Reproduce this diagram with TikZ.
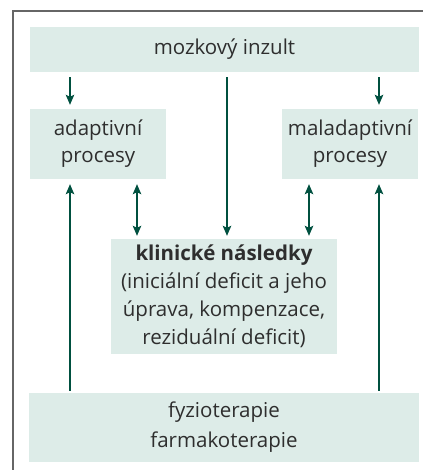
\documentclass[tikz,border=0pt]{standalone}
\usepackage{fontspec}
\setmainfont{Open Sans}
\usetikzlibrary{arrows.meta}
\definecolor{boxfill}{HTML}{DDECE8}
\definecolor{arrowcol}{HTML}{00503F}
\definecolor{txt}{HTML}{2E2E2E}
\definecolor{framecol}{HTML}{666666}
\begin{document}
\begin{tikzpicture}[x=1pt,y=-1pt,
  boxstyle/.style={fill=boxfill,draw=none,inner sep=0pt,align=center,text=txt,font=\fontsize{20.5}{27}\selectfont},
  arr/.style={draw=arrowcol,line width=1.2pt,-{Stealth[length=10pt,width=8.5pt,inset=2pt]}},
  darr/.style={draw=arrowcol,line width=1.2pt,{Stealth[length=10pt,width=8.5pt,inset=2pt]}-{Stealth[length=10pt,width=8.5pt,inset=2pt]}}
]
\useasboundingbox (0,0) rectangle (423,470);
\draw[framecol,line width=2pt] (13,470) -- (13,11) -- (423,11);

\node[boxstyle,minimum width=389pt,minimum height=45pt] (top) at (224.5,49.5) {mozkový inzult};
\node[boxstyle,minimum width=136pt,minimum height=70pt] (left) at (98,144) {adaptivní\\procesy};
\node[boxstyle,minimum width=136pt,minimum height=70pt] (right) at (350,144) {maladaptivní\\procesy};
\node[boxstyle,minimum width=226pt,minimum height=115pt,font=\fontsize{20.5}{28}\selectfont] (mid) at (224,296.5) {\textbf{klinické následky}\\(iniciální deficit a jeho\\úprava, kompenzace,\\reziduální deficit)};
\node[boxstyle,minimum width=390pt,minimum height=69pt,font=\fontsize{20.5}{30}\selectfont] (bot) at (224,427.5) {fyzioterapie\\farmakoterapie};

\coordinate (xa) at (70,0);
\coordinate (xb) at (137,0);
\coordinate (xc) at (227,0);
\coordinate (xd) at (309,0);
\coordinate (xe) at (379,0);

\draw[arr,shorten <=5pt,shorten >=4pt] (top.south -| xa) -- (left.north -| xa);
\draw[arr,shorten <=5pt,shorten >=4pt] (top.south -| xe) -- (right.north -| xe);
\draw[arr,shorten <=5pt,shorten >=3pt] (top.south -| xc) -- (mid.north -| xc);
\draw[darr,shorten <=5pt,shorten >=3pt] (left.south -| xb) -- (mid.north -| xb);
\draw[darr,shorten <=5pt,shorten >=3pt] (right.south -| xd) -- (mid.north -| xd);
\draw[arr,shorten <=2pt,shorten >=5pt] (bot.north -| xa) -- (left.south -| xa);
\draw[arr,shorten <=2pt,shorten >=5pt] (bot.north -| xe) -- (right.south -| xe);
\end{tikzpicture}
\end{document}
